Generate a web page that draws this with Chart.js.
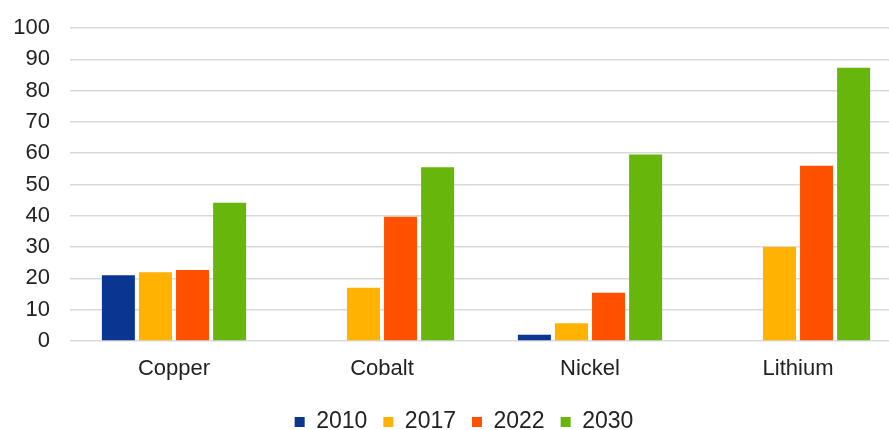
<!DOCTYPE html>
<html>
<head>
<meta charset="utf-8">
<script src="https://cdn.jsdelivr.net/npm/chart.js@4"></script>
<style>
  html, body { margin: 0; padding: 0; background: #fff; overflow: hidden; }
  #wrap { width: 902px; height: 430px; }
</style>
</head>
<body>
<div id="wrap"><canvas id="metalsChart"></canvas></div>
<script>
// Values
const metals = ['Copper', 'Cobalt', 'Nickel', 'Lithium'];
const years = ['2010', '2017', '2022', '2030'];
const v2010 = [21, null, 2, null];
const v2017 = [22, 17, 5.7, 30];
const v2022 = [22.7, 39.7, 15.4, 56];
const v2030 = [44.2, 55.5, 59.6, 87.3];
const yTicks = [0, 10, 20, 30, 40, 50, 60, 70, 80, 90, 100];

const colours = ['#0a3591', '#ffb200', '#ff5100', '#66b60b'];
const series = [v2010, v2017, v2022, v2030];

Chart.defaults.font.family = '"Liberation Sans", Arial, sans-serif';
Chart.defaults.font.size = 22;
Chart.defaults.color = '#222';

// move the legend down/right a bit and stop the x labels being clipped
const legendNudge = {
    id: 'legendNudge',
    afterLayout(chart) {
        const lg = chart.legend;
        lg.top += 13.5;
        lg.bottom += 13.5;
        lg.left += 13;
        lg.right += 13;
        chart.scales.x.bottom = chart.height;
    }
};

const ctx = document.getElementById('metalsChart').getContext('2d');
const metalsChart = new Chart(ctx, {
    type: 'bar',
    data: {
        labels: metals,
        datasets: series.map((vals, i) => ({
            label: years[i],
            data: vals,
            backgroundColor: colours[i],
            categoryPercentage: 0.713,
            barPercentage: 0.89
        }))
    },
    options: {
        responsive: true,
        maintainAspectRatio: false,
        animation: false,
        layout: { padding: 0 },
        plugins: {
            tooltip: { enabled: false },
            legend: {
                position: 'bottom',
                labels: {
                    font: { size: 23 },
                    boxWidth: 10,
                    boxHeight: 10,
                    padding: 16,
                    usePointStyle: true,
                    pointStyle: 'rect',
                    pointStyleWidth: 10
                }
            }
        },
        scales: {
            x: {
                grid: { display: false },
                border: { display: false },
                ticks: { padding: 7, maxRotation: 0 },
                afterFit: axis => { axis.height = 40; }
            },
            y: {
                min: 0,
                max: 100,
                afterBuildTicks: axis => { axis.ticks = yTicks.map(v => ({ value: v })); },
                grid: { color: '#d9d9d9', lineWidth: 1.5, drawTicks: false },
                border: { display: false },
                ticks: { padding: 20, autoSkip: false },
                afterFit: axis => {
                    axis.width = 70;
                    axis.paddingTop = 28;
                    axis.paddingBottom = 0;
                }
            }
        }
    },
    plugins: [legendNudge]
});
</script>
</body>
</html>
